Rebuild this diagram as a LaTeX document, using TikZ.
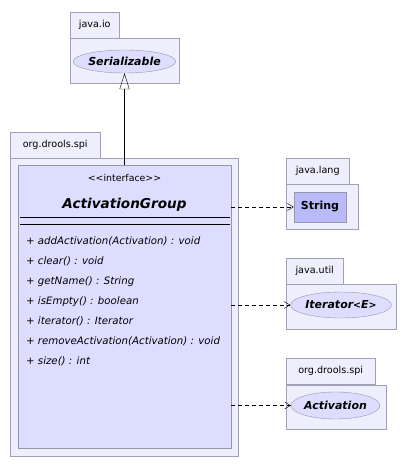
\documentclass[tikz,border=0pt]{standalone}
\usepackage{fontspec}
\setmainfont{DejaVu Sans}
\usepackage{xcolor}
\usetikzlibrary{arrows.meta,shapes.geometric}

\definecolor{pkgfill}{RGB}{238,238,252}
\definecolor{pkgline}{RGB}{160,160,182}
\definecolor{clsfill}{RGB}{221,221,255}
\definecolor{clsline}{RGB}{150,150,172}
\definecolor{strfill}{RGB}{186,186,250}

\begin{document}
\begin{tikzpicture}[
  x=1pt, y=-1pt,
  pkgtab/.style={draw=pkgline, fill=pkgfill, anchor=north west, inner sep=0pt,
                 font=\fontsize{9.6}{11}\selectfont, minimum height=26pt},
  pkgbody/.style={draw=pkgline, fill=pkgfill, anchor=north west, inner sep=0pt},
  iface/.style={ellipse, draw=clsline, fill=clsfill, inner sep=0pt,
                font=\fontsize{11}{13}\selectfont\bfseries\itshape},
  cls/.style={draw=clsline, fill=clsfill, inner sep=0pt},
  dep/.style={-{Straight Barb[length=6pt, width=7pt]}, dash pattern=on 4pt off 3pt, thin},
  realize/.style={-{Triangle[open, length=16pt, width=10pt]}, thin},
]
  \useasboundingbox (0,0) rectangle (406,470);

  % packages
  \node[pkgtab, minimum width=49pt] (ioTab) at (70,12) {java.io};
  \node[pkgbody, minimum width=109pt, minimum height=45pt] (ioPkg) at (70,38) {};
  \node[pkgtab, minimum width=90pt] (spiTab) at (10,132) {org.drools.spi};
  \node[pkgbody, minimum width=228pt, minimum height=298pt] (spiPkg) at (10,158) {};
  \node[pkgtab, minimum width=63pt] (langTab) at (286,158) {java.lang};
  \node[pkgbody, minimum width=72pt, minimum height=45pt] (langPkg) at (286,184) {};
  \node[pkgtab, minimum width=57pt] (utilTab) at (286,258) {java.util};
  \node[pkgbody, minimum width=110pt, minimum height=45pt] (utilPkg) at (286,284) {};
  \node[pkgtab, minimum width=89pt] (spi2Tab) at (286,358) {org.drools.spi};
  \node[pkgbody, minimum width=100pt, minimum height=44pt] (spi2Pkg) at (286,385) {};

  % classifiers
  \node[iface, minimum width=95pt, minimum height=23pt] (ser) at (124.5,61.5) {Serializable};
  \node[cls, draw=clsline, fill=strfill, minimum width=52pt, minimum height=30pt,
        font=\fontsize{11}{13}\selectfont\bfseries] (str) at (320,207) {String};
  \node[iface, minimum width=94pt, minimum height=26pt] (iter) at (341,305)
    {Iterator{\fontsize{9.5}{11}\selectfont\textless}E{\fontsize{9.5}{11}\selectfont\textgreater}};
  \node[iface, minimum width=83pt, minimum height=27pt] (act) at (335.5,405.5) {Activation};

  % the interface
  \node[cls, minimum width=213pt, minimum height=283pt] (ag) at (124.5,306.5) {};
  \node[font=\fontsize{9.4}{11}\selectfont] (stereo) at (124.5,178)
    {\textless\kern0pt\textless interface\textgreater\kern0pt\textgreater};
  \node[font=\fontsize{13.6}{16}\selectfont\bfseries\itshape] (agName) at (124.5,205)
    {ActivationGroup};
  \draw (20,217) -- (230,217);
  \draw (20,224) -- (230,224);
  \node[anchor=north west, align=left, inner sep=0pt,
        font=\fontsize{10.2}{20}\selectfont\itshape] (ops) at (26,237)
    {+ addActivation(Activation) : void\\
     + clear() : void\\
     + getName() : String\\
     + isEmpty() : boolean\\
     + iterator() : Iterator\\
     + removeActivation(Activation) : void\\
     + size() : int};

  \draw[realize] (ag.north) -- (ser.south);
  \draw[dep] (ag.east |- str.west) -- (str.west);
  \draw[dep] (ag.east |- iter.west) -- (iter.west);
  \draw[dep] (ag.east |- act.west) -- (act.west);
\end{tikzpicture}
\end{document}
